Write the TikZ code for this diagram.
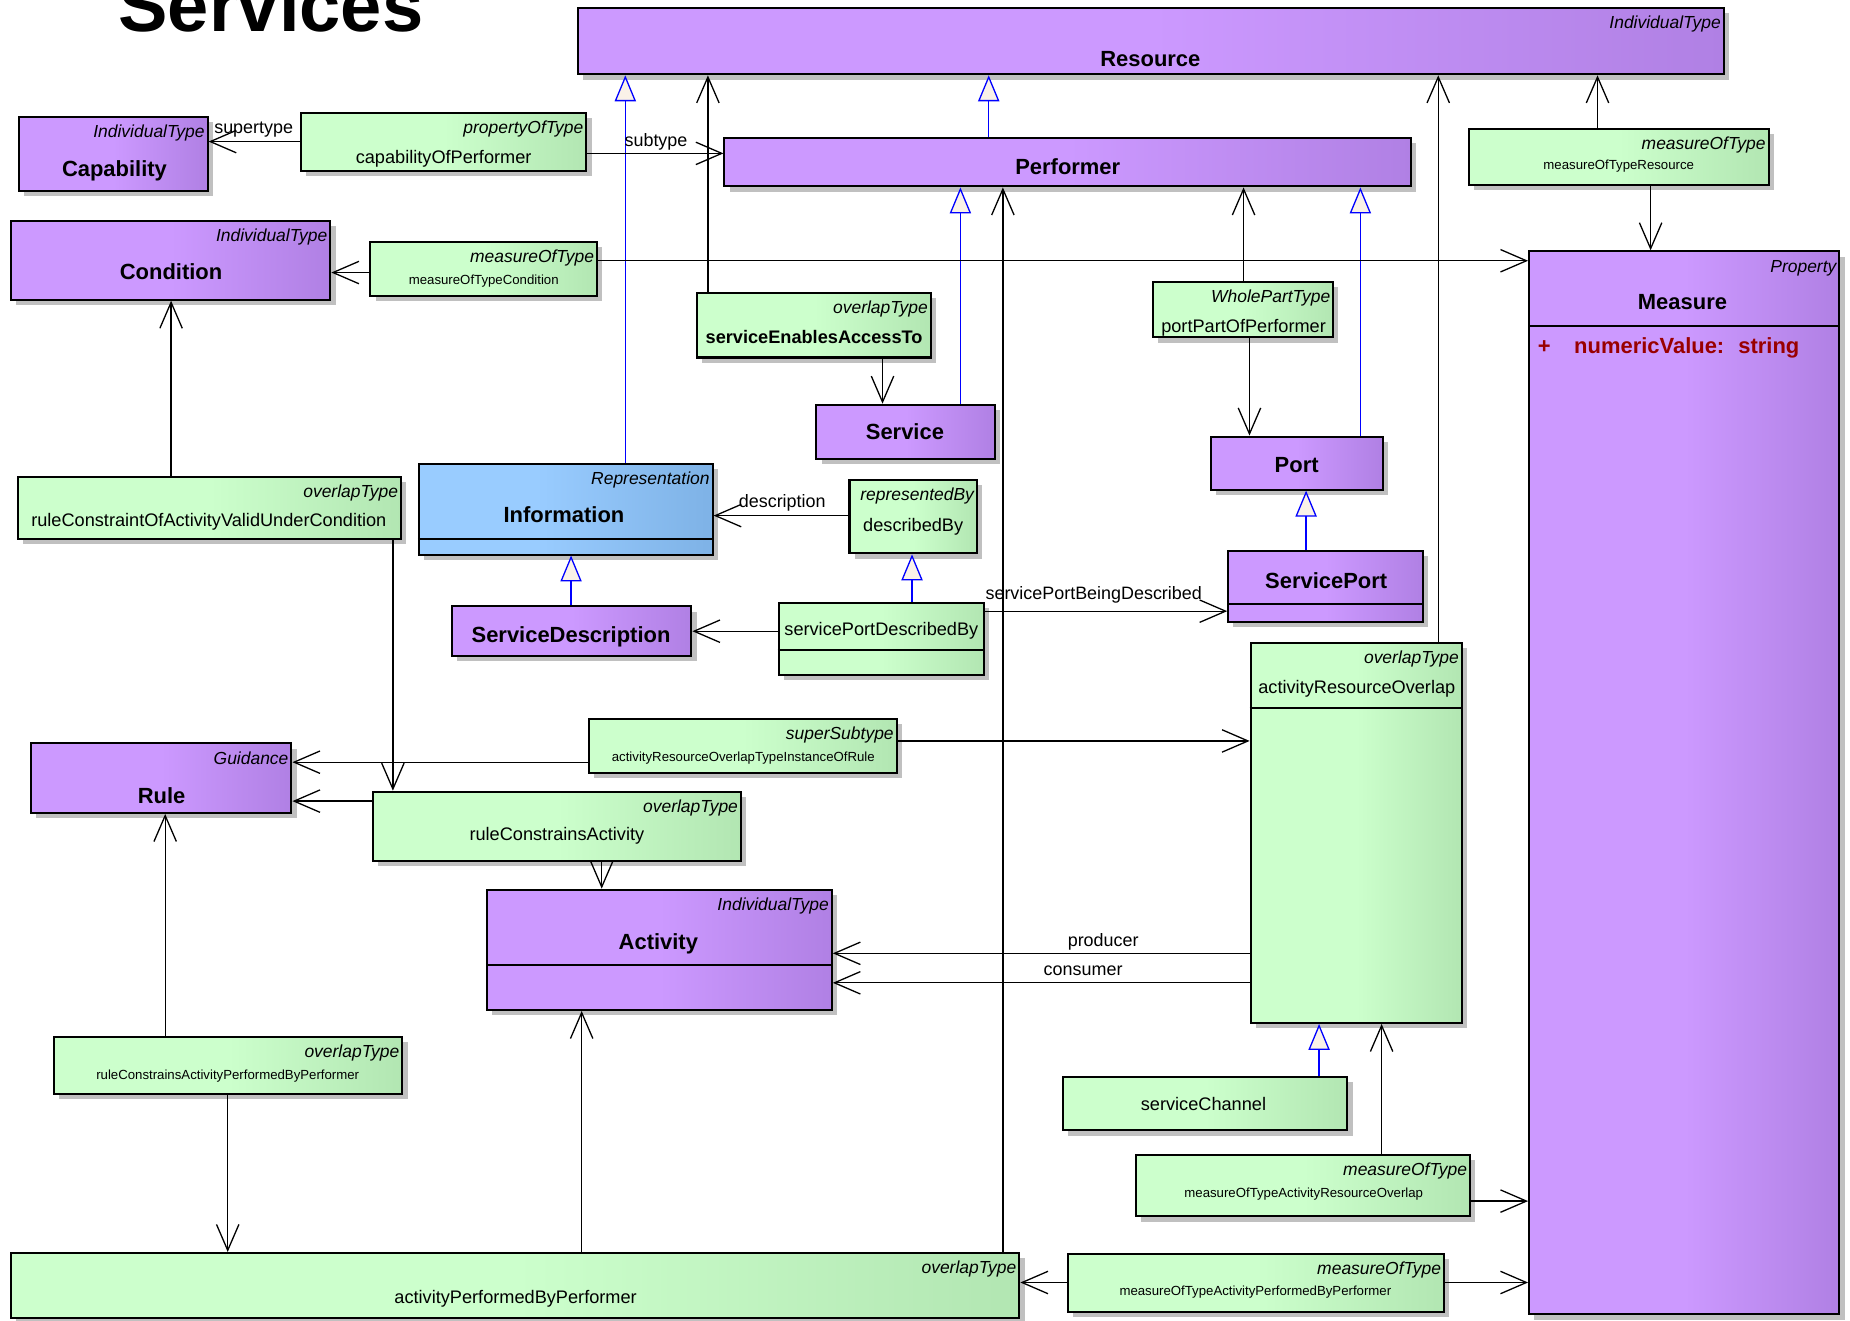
\documentclass[tikz,border=0pt]{standalone}
\usepackage{fontspec}
\setmainfont{Liberation Sans}
\usetikzlibrary{arrows.meta,fit,shadows}

\definecolor{clsL}{RGB}{204,153,255}
\definecolor{clsR}{RGB}{176,128,228}
\definecolor{asscL}{RGB}{204,255,204}
\definecolor{asscR}{RGB}{178,230,178}
\definecolor{infoL}{RGB}{153,204,255}
\definecolor{infoR}{RGB}{126,178,230}
\definecolor{genblue}{RGB}{0,0,255}
\definecolor{genfill}{RGB}{250,242,232}
\definecolor{shadowgray}{RGB}{192,192,192}
\definecolor{attrred}{RGB}{153,0,0}

\pgfdeclarehorizontalshading{clsgrad}{100bp}{color(0bp)=(clsL); color(50bp)=(clsL); color(75bp)=(clsR); color(100bp)=(clsR)}
\pgfdeclarehorizontalshading{asscgrad}{100bp}{color(0bp)=(asscL); color(50bp)=(asscL); color(75bp)=(asscR); color(100bp)=(asscR)}
\pgfdeclarehorizontalshading{infograd}{100bp}{color(0bp)=(infoL); color(45bp)=(infoL); color(75bp)=(infoR); color(100bp)=(infoR)}

\tikzset{
  umlbox/.style={draw, line width=0.85pt, inner sep=0pt, shade,
    drop shadow={shadow xshift=2.2pt,shadow yshift=-2.2pt,fill=shadowgray,opacity=1}},
  cls/.style={umlbox, shading=clsgrad},
  infocls/.style={umlbox, shading=infograd},
  assc/.style={umlbox, shading=asscgrad},
  stereo/.style={anchor=north east, inner xsep=1.5pt, inner ysep=3.6pt,
    text height=5.4pt, text depth=0pt, font=\fontsize{7.4}{9}\selectfont\itshape},
  cname/.style={inner sep=0pt, text height=6.7pt, text depth=0pt,
    font=\fontsize{9.3}{11}\selectfont\bfseries},
  aname/.style={inner sep=0pt, text height=5.5pt, text depth=0pt,
    font=\fontsize{7.7}{9}\selectfont},
  sname/.style={inner sep=0pt, text height=4pt, text depth=0pt,
    font=\fontsize{5.6}{7}\selectfont},
  attr/.style={inner sep=0pt, text height=6.7pt, text depth=0pt, attrred,
    font=\fontsize{9.3}{11}\selectfont\bfseries},
  lbl/.style={inner sep=0pt, text height=5.4pt, text depth=0pt,
    font=\fontsize{7.6}{9}\selectfont},
  divider/.style={line width=0.85pt},
  assoc/.style={line width=0.55pt, -{Straight Barb[length=11pt,width=9.5pt]}},
  gen/.style={genblue, line width=0.55pt, -{Triangle[length=11pt,width=9pt,fill=genfill]}}
}

\begin{document}
\begin{tikzpicture}[x=0.5pt,y=-0.5pt]
  \useasboundingbox (0,0) rectangle (1568,1119);

  \node[anchor=base west, inner sep=0pt, font=\fontsize{31.4}{36}\selectfont\bfseries] (title) at (100,27) {Services};

  % classes
  \node[cls, fit={(490,7) (1461,63)}] (resource) {};
  \node[stereo] (resourceS) at (resource.north east) {IndividualType};
  \node[cname] (resourceN) at (975,50) {Resource};

  \node[cls, fit={(16,99) (176,162)}] (capability) {};
  \node[stereo] (capabilityS) at (capability.north east) {IndividualType};
  \node[cname] (capabilityN) at (97,143) {Capability};

  \node[cls, fit={(9,187) (280,254)}] (condition) {};
  \node[stereo] (conditionS) at (condition.north east) {IndividualType};
  \node[cname] (conditionN) at (145,230) {Condition};

  \node[cls, fit={(614,117) (1196,158)}] (performer) {};
  \node[cname] (performerN) at (905,141) {Performer};

  \node[cls, fit={(1296,213) (1559,1114)}] (measure) {};
  \node[stereo] (measureS) at (measure.north east) {Property};
  \node[cname] (measureN) at (1426,256) {Measure};
  \draw[divider] (measure.west |- 0,276) -- (measure.east |- 0,276);
  \node[attr, anchor=west] (measureA) at (1303,293) {+\hspace{10pt}numericValue:\hspace{6pt}string};

  \node[cls, fit={(692,343) (843,389)}] (service) {};
  \node[cname] (serviceN) at (767,366) {Service};

  \node[cls, fit={(1026,370) (1172,415)}] (port) {};
  \node[cname] (portN) at (1099,394) {Port};

  \node[cls, fit={(1041,467) (1206,527)}] (serviceport) {};
  \node[cname] (serviceportN) at (1124,492) {ServicePort};
  \draw[divider] (serviceport.west |- 0,512) -- (serviceport.east |- 0,512);

  \node[infocls, fit={(355,393) (604,470)}] (information) {};
  \node[stereo] (informationS) at (information.north east) {Representation};
  \node[cname] (informationN) at (478,436) {Information};
  \draw[divider] (information.west |- 0,457) -- (information.east |- 0,457);

  \node[cls, fit={(383,514) (586,556)}] (servicedesc) {};
  \node[cname] (servicedescN) at (484,538) {ServiceDescription};

  \node[cls, fit={(26,630) (247,689)}] (rule) {};
  \node[stereo] (ruleS) at (rule.north east) {Guidance};
  \node[cname] (ruleN) at (137,674) {Rule};

  \node[cls, fit={(413,754) (705,856)}] (activity) {};
  \node[stereo] (activityS) at (activity.north east) {IndividualType};
  \node[cname] (activityN) at (558,798) {Activity};
  \draw[divider] (activity.west |- 0,818) -- (activity.east |- 0,818);

  % association classes
  \node[assc, fit={(255,96) (497,145)}] (capofperf) {};
  \node[stereo] (capofperfS) at (capofperf.north east) {propertyOfType};
  \node[aname] (capofperfN) at (376,133) {capabilityOfPerformer};

  \node[assc, fit={(314,205) (506,251)}] (motcond) {};
  \node[stereo] (motcondS) at (motcond.north east) {measureOfType};
  \node[sname] (motcondN) at (410,237) {measureOfTypeCondition};

  \node[assc, fit={(1245,109) (1499,157)}] (motres) {};
  \node[stereo] (motresS) at (motres.north east) {measureOfType};
  \node[sname] (motresN) at (1372,140) {measureOfTypeResource};

  \node[assc, fit={(591,248) (789,303)}] (seaccess) {};
  \node[stereo] (seaccessS) at (seaccess.north east) {overlapType};
  \node[aname, font=\fontsize{7.7}{9}\selectfont\bfseries] (seaccessN) at (690,286) {serviceEnablesAccessTo};

  \node[assc, fit={(977,239) (1130,286)}] (portpart) {};
  \node[stereo] (portpartS) at (portpart.north east) {WholePartType};
  \node[aname] (portpartN) at (1054,276) {portPartOfPerformer};

  \node[assc, fit={(720,407) (828,469)}] (describedby) {};
  \node[stereo] (describedbyS) at (describedby.north east) {representedBy};
  \node[aname] (describedbyN) at (774,445) {describedBy};

  \node[assc, fit={(15,404) (340,457)}] (rcvalid) {};
  \node[stereo] (rcvalidS) at (rcvalid.north east) {overlapType};
  \node[aname] (rcvalidN) at (177,441) {ruleConstraintOfActivityValidUnderCondition};

  \node[assc, fit={(660,511) (834,572)}] (spdescribed) {};
  \node[aname] (spdescribedN) at (747,533) {servicePortDescribedBy};
  \draw[divider] (spdescribed.west |- 0,551) -- (spdescribed.east |- 0,551);

  \node[assc, fit={(1060,545) (1239,867)}] (aro) {};
  \node[stereo] (aroS) at (aro.north east) {overlapType};
  \node[aname] (aroN) at (1150,582) {activityResourceOverlap};
  \draw[divider] (aro.west |- 0,600) -- (aro.east |- 0,600);

  \node[assc, fit={(499,609) (760,655)}] (arorule) {};
  \node[stereo] (aroruleS) at (arorule.north east) {superSubtype};
  \node[sname] (aroruleN) at (630,641) {activityResourceOverlapTypeInstanceOfRule};

  \node[assc, fit={(316,671) (628,730)}] (rcactivity) {};
  \node[stereo] (rcactivityS) at (rcactivity.north east) {overlapType};
  \node[aname] (rcactivityN) at (472,707) {ruleConstrainsActivity};

  \node[assc, fit={(46,879) (341,927)}] (rcapbp) {};
  \node[stereo] (rcapbpS) at (rcapbp.north east) {overlapType};
  \node[sname] (rcapbpN) at (193,911) {ruleConstrainsActivityPerformedByPerformer};

  \node[assc, fit={(901,913) (1142,958)}] (servicechannel) {};
  \node[aname] (servicechannelN) at (1020,936) {serviceChannel};

  \node[assc, fit={(963,979) (1246,1031)}] (motaro) {};
  \node[stereo] (motaroS) at (motaro.north east) {measureOfType};
  \node[sname] (motaroN) at (1105,1011) {measureOfTypeActivityResourceOverlap};

  \node[assc, fit={(9,1062) (864,1117)}] (apbp) {};
  \node[stereo] (apbpS) at (apbp.north east) {overlapType};
  \node[aname] (apbpN) at (437,1099) {activityPerformedByPerformer};

  \node[assc, fit={(905,1063) (1224,1112)}] (motapbp) {};
  \node[stereo] (motapbpS) at (motapbp.north east) {measureOfType};
  \node[sname] (motapbpN) at (1064,1094) {measureOfTypeActivityPerformedByPerformer};

  % generalisations
  \draw[gen] (information.north -| 530,0) -- (resource.south -| 530,0);
  \draw[gen] (performer.north -| 838,0) -- (resource.south -| 838,0);
  \draw[gen] (service.north -| 814,0) -- (performer.south -| 814,0);
  \draw[gen] (port.north -| 1153,0) -- (performer.south -| 1153,0);
  \draw[gen] (serviceport.north -| 1107,0) -- (port.south -| 1107,0);
  \draw[gen] (servicedesc.north -| 484,0) -- (information.south -| 484,0);
  \draw[gen] (spdescribed.north -| 773,0) -- (describedby.south -| 773,0);
  \draw[gen] (servicechannel.north -| 1118,0) -- (aro.south -| 1118,0);

  % associations
  \draw[assoc] (capofperf.west |- 0,120) -- (capability.east |- 0,120);
  \draw[assoc] (capofperf.east |- 0,130) -- (performer.west |- 0,130);
  \draw[assoc] (motcond.west |- 0,231) -- (condition.east |- 0,231);
  \draw[assoc] (motcond.east |- 0,221) -- (measure.west |- 0,221);
  \draw[assoc] (motres.north -| 1354,0) -- (resource.south -| 1354,0);
  \draw[assoc] (motres.south -| 1399,0) -- (measure.north -| 1399,0);
  \draw[assoc] (seaccess.north -| 600,0) -- (resource.south -| 600,0);
  \draw[assoc] (seaccess.south -| 748,0) -- (service.north -| 748,0);
  \draw[assoc] (aro.north -| 1219,0) -- (resource.south -| 1219,0);
  \draw[assoc] (apbp.north -| 850,0) -- (performer.south -| 850,0);
  \draw[assoc] (portpart.north -| 1054,0) -- (performer.south -| 1054,0);
  \draw[assoc] (portpart.south -| 1059,0) -- (port.north -| 1059,0);
  \draw[assoc] (rcvalid.north -| 145,0) -- (condition.south -| 145,0);
  \draw[assoc] (rcvalid.south -| 333,0) -- (rcactivity.north -| 333,0);
  \draw[assoc] (describedby.west |- 0,437) -- (information.east |- 0,437);
  \draw[assoc] (spdescribed.west |- 0,535) -- (servicedesc.east |- 0,535);
  \draw[assoc] (spdescribed.east |- 0,518) -- (serviceport.west |- 0,518);
  \draw[assoc] (arorule.west |- 0,646) -- (rule.east |- 0,646);
  \draw[assoc] (arorule.east |- 0,628) -- (aro.west |- 0,628);
  \draw[assoc] (rcactivity.west |- 0,679) -- (rule.east |- 0,679);
  \draw[assoc] (rcactivity.south -| 510,0) -- (activity.north -| 510,0);
  \draw[assoc] (aro.west |- 0,808) -- (activity.east |- 0,808);
  \draw[assoc] (aro.west |- 0,833) -- (activity.east |- 0,833);
  \draw[assoc] (rcapbp.north -| 140,0) -- (rule.south -| 140,0);
  \draw[assoc] (rcapbp.south -| 193,0) -- (apbp.north -| 193,0);
  \draw[assoc] (apbp.north -| 493,0) -- (activity.south -| 493,0);
  \draw[assoc] (motaro.north -| 1171,0) -- (aro.south -| 1171,0);
  \draw[assoc] (motaro.east |- 0,1018) -- (measure.west |- 0,1018);
  \draw[assoc] (motapbp.west |- 0,1087) -- (apbp.east |- 0,1087);
  \draw[assoc] (motapbp.east |- 0,1087) -- (measure.west |- 0,1087);

  % role labels
  \node[lbl] (supertypeL) at (215,108) {supertype};
  \node[lbl] (subtypeL) at (556,119) {subtype};
  \node[lbl] (descriptionL) at (663,425) {description};
  \node[lbl] (spbdL) at (927,503) {servicePortBeingDescribed};
  \node[lbl] (producerL) at (935,797) {producer};
  \node[lbl] (consumerL) at (918,821) {consumer};
\end{tikzpicture}
\end{document}
